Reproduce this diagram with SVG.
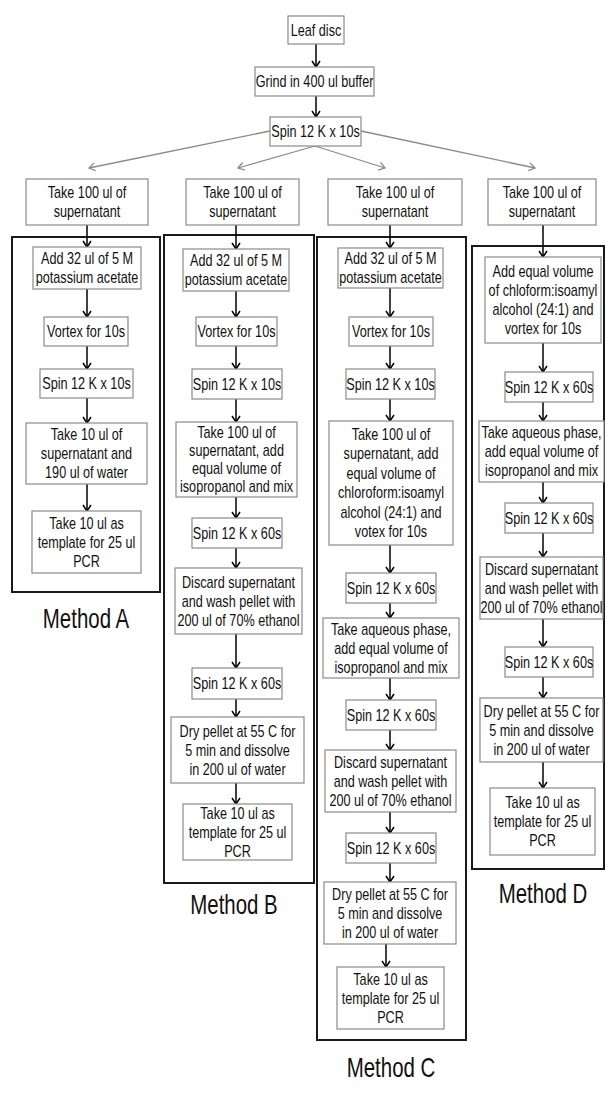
<svg xmlns="http://www.w3.org/2000/svg" width="606" height="1106" viewBox="0 0 606 1106">
<style>
.n{fill:#fff;stroke:#8a8a8a;stroke-width:1.2}
.c{fill:none;stroke:#1a1a1a;stroke-width:2}
text{font-family:"Liberation Sans",Arial,sans-serif;font-size:16px;fill:#111;text-anchor:middle}
text.m{font-size:28px}
.a{stroke:#000;stroke-width:1.5;fill:none;marker-end:url(#ah)}
.g{stroke:#8a8a8a;stroke-width:1.3;fill:none;marker-end:url(#ag)}
</style>
<defs>
<marker id="ah" markerWidth="10" markerHeight="10" refX="9" refY="5" orient="auto" markerUnits="userSpaceOnUse"><path d="M3,1 L9,5 L3,9" fill="none" stroke="#000" stroke-width="1.5"/></marker>
<marker id="ag" markerWidth="10" markerHeight="10" refX="9" refY="5" orient="auto" markerUnits="userSpaceOnUse"><path d="M3,1 L9,5 L3,9" fill="none" stroke="#8a8a8a" stroke-width="1.3"/></marker>
</defs>
<rect width="606" height="1106" fill="#fff"/>

<g id="containers">
<rect class="c" x="12" y="237" width="148" height="355"/>
<rect class="c" x="164" y="235" width="150" height="648"/>
<rect class="c" x="317" y="237" width="149" height="803"/>
<rect class="c" x="472" y="246" width="132" height="623"/>
</g>

<g id="connectors">
<line class="a" x1="316" y1="44" x2="316" y2="67"/>
<line class="a" x1="316" y1="96" x2="316" y2="117"/>
<line class="g" x1="270" y1="131" x2="89" y2="168"/>
<line class="g" x1="315" y1="146" x2="238" y2="168"/>
<line class="g" x1="315" y1="146" x2="385" y2="168"/>
<line class="g" x1="361" y1="131" x2="535" y2="168"/>
<!-- A -->
<line class="a" x1="87" y1="225" x2="87" y2="247"/>
<line class="a" x1="87" y1="289" x2="87" y2="317"/>
<line class="a" x1="87" y1="346" x2="87" y2="369"/>
<line class="a" x1="87" y1="398" x2="87" y2="423"/>
<line class="a" x1="87" y1="484" x2="87" y2="511"/>
<!-- B -->
<line class="a" x1="236" y1="225" x2="236" y2="249"/>
<line class="a" x1="236" y1="291" x2="236" y2="317"/>
<line class="a" x1="236" y1="346" x2="236" y2="369"/>
<line class="a" x1="236" y1="399" x2="236" y2="422"/>
<line class="a" x1="236" y1="497" x2="236" y2="518"/>
<line class="a" x1="236" y1="548" x2="236" y2="568"/>
<line class="a" x1="236" y1="634" x2="236" y2="668"/>
<line class="a" x1="236" y1="699" x2="236" y2="717"/>
<line class="a" x1="236" y1="783" x2="236" y2="804"/>
<!-- C -->
<line class="a" x1="390" y1="225" x2="390" y2="248"/>
<line class="a" x1="390" y1="288" x2="390" y2="317"/>
<line class="a" x1="390" y1="346" x2="390" y2="369"/>
<line class="a" x1="390" y1="399" x2="390" y2="421"/>
<line class="a" x1="390" y1="545" x2="390" y2="573"/>
<line class="a" x1="390" y1="603" x2="390" y2="618"/>
<line class="a" x1="390" y1="678" x2="390" y2="700"/>
<line class="a" x1="390" y1="730" x2="390" y2="750"/>
<line class="a" x1="390" y1="812" x2="390" y2="833"/>
<line class="a" x1="390" y1="863" x2="390" y2="882"/>
<line class="a" x1="386" y1="944" x2="386" y2="967"/>
<!-- D -->
<line class="a" x1="543" y1="225" x2="543" y2="257"/>
<line class="a" x1="543" y1="343" x2="543" y2="372"/>
<line class="a" x1="543" y1="402" x2="543" y2="421"/>
<line class="a" x1="543" y1="482" x2="543" y2="503"/>
<line class="a" x1="543" y1="533" x2="543" y2="557"/>
<line class="a" x1="543" y1="619" x2="543" y2="647"/>
<line class="a" x1="543" y1="677" x2="543" y2="698"/>
<line class="a" x1="543" y1="762" x2="543" y2="788"/>
</g>

<g id="leaf"><rect class="n" x="288" y="16" width="56" height="28"/><text transform="translate(316,35.6) scale(0.79,1)">Leaf disc</text></g>
<g id="grind"><rect class="n" x="255" y="67" width="119" height="29"/><text transform="translate(314.5,87.1) scale(0.79,1)">Grind in 400 ul buffer</text></g>
<g id="spin0"><rect class="n" x="270" y="117" width="91" height="29"/><text transform="translate(315.5,137.1) scale(0.79,1)">Spin 12 K x 10s</text></g>

<g id="takeA"><rect class="n" x="26" y="179" width="122" height="46"/><text transform="translate(87,198.1) scale(0.79,1)"><tspan x="0">Take 100 ul of</tspan><tspan x="0" dy="19">supernatant</tspan></text></g>
<g id="takeB"><rect class="n" x="186" y="179" width="113" height="46"/><text transform="translate(242.5,198.1) scale(0.79,1)"><tspan x="0">Take 100 ul of</tspan><tspan x="0" dy="19">supernatant</tspan></text></g>
<g id="takeC"><rect class="n" x="328" y="179" width="134" height="46"/><text transform="translate(395,198.1) scale(0.79,1)"><tspan x="0">Take 100 ul of</tspan><tspan x="0" dy="19">supernatant</tspan></text></g>
<g id="takeD"><rect class="n" x="488" y="179" width="108" height="46"/><text transform="translate(542,198.1) scale(0.79,1)"><tspan x="0">Take 100 ul of</tspan><tspan x="0" dy="19">supernatant</tspan></text></g>

<!-- Method A -->
<g id="a1"><rect class="n" x="33" y="247" width="108" height="42"/><text transform="translate(87,264.1) scale(0.79,1)"><tspan x="0">Add 32 ul of 5 M</tspan><tspan x="0" dy="19">potassium acetate</tspan></text></g>
<g id="a2"><rect class="n" x="44" y="317" width="84" height="29"/><text transform="translate(86,337.1) scale(0.79,1)">Vortex for 10s</text></g>
<g id="a3"><rect class="n" x="40" y="369" width="93" height="29"/><text transform="translate(86.5,389.1) scale(0.79,1)">Spin 12 K x 10s</text></g>
<g id="a4"><rect class="n" x="26" y="423" width="121" height="61"/><text transform="translate(86.5,440.1) scale(0.79,1)"><tspan x="0">Take 10 ul of</tspan><tspan x="0" dy="19">supernatant and</tspan><tspan x="0" dy="19">190 ul of water</tspan></text></g>
<g id="a5"><rect class="n" x="32" y="511" width="109" height="62"/><text transform="translate(86.5,528.6) scale(0.79,1)"><tspan x="0">Take 10 ul as</tspan><tspan x="0" dy="19">template for 25 ul</tspan><tspan x="0" dy="19">PCR</tspan></text></g>
<g id="labelA"><text class="m" transform="translate(86,628) scale(0.73,1)">Method A</text></g>

<!-- Method B -->
<g id="b1"><rect class="n" x="183" y="249" width="106" height="42"/><text transform="translate(236,266.1) scale(0.79,1)"><tspan x="0">Add 32 ul of 5 M</tspan><tspan x="0" dy="19">potassium acetate</tspan></text></g>
<g id="b2"><rect class="n" x="196" y="317" width="81" height="29"/><text transform="translate(236.5,337.1) scale(0.79,1)">Vortex for 10s</text></g>
<g id="b3"><rect class="n" x="192" y="369" width="90" height="30"/><text transform="translate(237,389.6) scale(0.79,1)">Spin 12 K x 10s</text></g>
<g id="b4"><rect class="n" x="176" y="422" width="121" height="75"/><text transform="translate(236.5,438.1) scale(0.79,1)"><tspan x="0">Take 100 ul of</tspan><tspan x="0" dy="18">supernatant, add</tspan><tspan x="0" dy="18">equal volume of</tspan><tspan x="0" dy="18">isopropanol and mix</tspan></text></g>
<g id="b5"><rect class="n" x="192" y="518" width="90" height="30"/><text transform="translate(237,538.6) scale(0.79,1)">Spin 12 K x 60s</text></g>
<g id="b6"><rect class="n" x="175" y="568" width="127" height="66"/><text transform="translate(238.5,587.6) scale(0.79,1)"><tspan x="0">Discard supernatant</tspan><tspan x="0" dy="19">and wash pellet with</tspan><tspan x="0" dy="19">200 ul of 70% ethanol</tspan></text></g>
<g id="b7"><rect class="n" x="192" y="668" width="90" height="31"/><text transform="translate(237,689.1) scale(0.79,1)">Spin 12 K x 60s</text></g>
<g id="b8"><rect class="n" x="171" y="717" width="133" height="66"/><text transform="translate(237.5,736.6) scale(0.79,1)"><tspan x="0">Dry pellet at 55 C for</tspan><tspan x="0" dy="19">5 min and dissolve</tspan><tspan x="0" dy="19">in 200 ul of water</tspan></text></g>
<g id="b9"><rect class="n" x="183" y="804" width="109" height="56"/><text transform="translate(237.5,818.6) scale(0.79,1)"><tspan x="0">Take 10 ul as</tspan><tspan x="0" dy="19">template for 25 ul</tspan><tspan x="0" dy="19">PCR</tspan></text></g>
<g id="labelB"><text class="m" transform="translate(234,914) scale(0.73,1)">Method B</text></g>

<!-- Method C -->
<g id="c1"><rect class="n" x="338" y="248" width="105" height="40"/><text transform="translate(390.5,264.1) scale(0.79,1)"><tspan x="0">Add 32 ul of 5 M</tspan><tspan x="0" dy="19">potassium acetate</tspan></text></g>
<g id="c2"><rect class="n" x="349" y="317" width="84" height="29"/><text transform="translate(391,337.1) scale(0.79,1)">Vortex for 10s</text></g>
<g id="c3"><rect class="n" x="346" y="369" width="89" height="30"/><text transform="translate(390.5,389.6) scale(0.79,1)">Spin 12 K x 10s</text></g>
<g id="c4"><rect class="n" x="329" y="421" width="124" height="124"/><text transform="translate(391,439.85) scale(0.79,1)"><tspan x="0">Take 100 ul of</tspan><tspan x="0" dy="19.5">supernatant, add</tspan><tspan x="0" dy="19.5">equal volume of</tspan><tspan x="0" dy="19.5">chloroform:isoamyl</tspan><tspan x="0" dy="19.5">alcohol (24:1) and</tspan><tspan x="0" dy="19.5">votex for 10s</tspan></text></g>
<g id="c5"><rect class="n" x="346" y="573" width="90" height="30"/><text transform="translate(391,593.6) scale(0.79,1)">Spin 12 K x 60s</text></g>
<g id="c6"><rect class="n" x="323" y="618" width="136" height="60"/><text transform="translate(391,634.6) scale(0.79,1)"><tspan x="0">Take aqueous phase,</tspan><tspan x="0" dy="19">add equal volume of</tspan><tspan x="0" dy="19">isopropanol and mix</tspan></text></g>
<g id="c7"><rect class="n" x="346" y="700" width="90" height="30"/><text transform="translate(391,720.6) scale(0.79,1)">Spin 12 K x 60s</text></g>
<g id="c8"><rect class="n" x="325" y="750" width="131" height="62"/><text transform="translate(390.5,767.6) scale(0.79,1)"><tspan x="0">Discard supernatant</tspan><tspan x="0" dy="19">and wash pellet with</tspan><tspan x="0" dy="19">200 ul of 70% ethanol</tspan></text></g>
<g id="c9"><rect class="n" x="346" y="833" width="90" height="30"/><text transform="translate(391,853.6) scale(0.79,1)">Spin 12 K x 60s</text></g>
<g id="c10"><rect class="n" x="324" y="882" width="132" height="62"/><text transform="translate(390,899.6) scale(0.79,1)"><tspan x="0">Dry pellet at 55 C for</tspan><tspan x="0" dy="19">5 min and dissolve</tspan><tspan x="0" dy="19">in 200 ul of water</tspan></text></g>
<g id="c11"><rect class="n" x="337" y="967" width="107" height="62"/><text transform="translate(390.5,984.6) scale(0.79,1)"><tspan x="0">Take 10 ul as</tspan><tspan x="0" dy="19">template for 25 ul</tspan><tspan x="0" dy="19">PCR</tspan></text></g>
<g id="labelC"><text class="m" transform="translate(391,1077) scale(0.73,1)">Method C</text></g>

<!-- Method D -->
<g id="d1"><rect class="n" x="485" y="257" width="116" height="86"/><text transform="translate(543,277.1) scale(0.79,1)"><tspan x="0">Add equal volume</tspan><tspan x="0" dy="19">of chloform:isoamyl</tspan><tspan x="0" dy="19">alcohol (24:1) and</tspan><tspan x="0" dy="19">vortex for 10s</tspan></text></g>
<g id="d2"><rect class="n" x="505" y="372" width="88" height="30"/><text transform="translate(549,392.6) scale(0.79,1)">Spin 12 K x 60s</text></g>
<g id="d3"><rect class="n" x="479" y="421" width="125" height="61"/><text transform="translate(541.5,438.1) scale(0.79,1)"><tspan x="0">Take aqueous phase,</tspan><tspan x="0" dy="19">add equal volume of</tspan><tspan x="0" dy="19">isopropanol and mix</tspan></text></g>
<g id="d4"><rect class="n" x="505" y="503" width="88" height="30"/><text transform="translate(549,523.6) scale(0.79,1)">Spin 12 K x 60s</text></g>
<g id="d5"><rect class="n" x="480" y="557" width="123" height="62"/><text transform="translate(541.5,574.6) scale(0.79,1)"><tspan x="0">Discard supernatant</tspan><tspan x="0" dy="19">and wash pellet with</tspan><tspan x="0" dy="19">200 ul of 70% ethanol</tspan></text></g>
<g id="d6"><rect class="n" x="505" y="647" width="88" height="30"/><text transform="translate(549,667.6) scale(0.79,1)">Spin 12 K x 60s</text></g>
<g id="d7"><rect class="n" x="480" y="698" width="123" height="64"/><text transform="translate(541.5,716.6) scale(0.79,1)"><tspan x="0">Dry pellet at 55 C for</tspan><tspan x="0" dy="19">5 min and dissolve</tspan><tspan x="0" dy="19">in 200 ul of water</tspan></text></g>
<g id="d8"><rect class="n" x="490" y="788" width="105" height="67"/><text transform="translate(542.5,808.1) scale(0.79,1)"><tspan x="0">Take 10 ul as</tspan><tspan x="0" dy="19">template for 25 ul</tspan><tspan x="0" dy="19">PCR</tspan></text></g>
<g id="labelD"><text class="m" transform="translate(543,903) scale(0.73,1)">Method D</text></g>
</svg>
